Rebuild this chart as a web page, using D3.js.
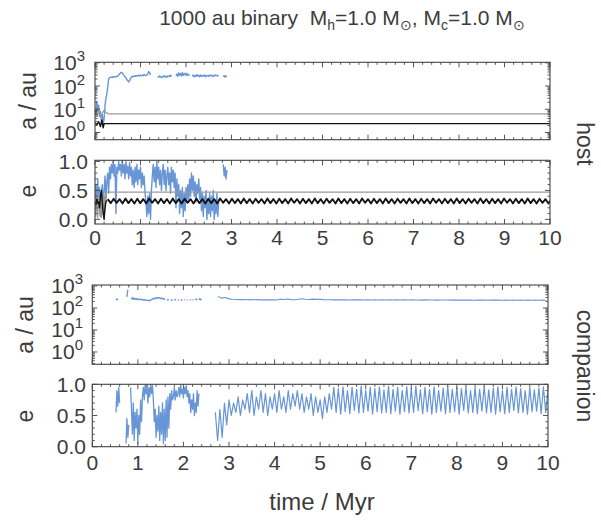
<!DOCTYPE html>
<html><head><meta charset="utf-8">
<script src="https://cdn.jsdelivr.net/npm/d3@7"></script>
<style>
body{margin:0;background:#fff;}
svg{display:block;font-family:"Liberation Sans",Arial,Helvetica,sans-serif;}
text{white-space:pre;}
</style></head><body>
<svg id="c" width="601" height="520"></svg>
<script>
// ---------------- DATA ----------------
const xTicks = [0,1,2,3,4,5,6,7,8,9,10];
const logTickExps = [0,1,2,3];
const eTicks = [0.0,0.5,1.0];
const eTickLabels = ["0.0","0.5","1.0"];

// host planet semi-major axis (blue), t = 0 .. 2.90 Myr, step 0.02
const hostA_blueStart = 0, hostA_blueStep = 0.02;
const hostA_blue = [
 10,6,22,9,15,5,8,3,6,2,
 4,14,30,45,90,200,230,235,240,245,
 240,250,255,250,260,270,300,330,360,390,
 370,310,280,250,220,190,170,150,170,210,
 240,260,250,270,260,280,265,275,300,270,
 290,280,300,275,310,290,280,300,320,420,
 380,300,null,null,null,null,null,null,null,260,
 240,270,250,230,260,245,280,250,265,240,
 270,255,290,260,300,null,null,null,null,280,
 330,260,370,290,350,270,380,290,340,300,
 360,280,330,300,280,null,null,260,300,250,
 280,260,310,270,290,250,300,260,280,270,
 300,250,290,270,280,260,300,275,290,260,
 285,270,300,280,290,270,285,null,null,null,
 null,250,280,240,270,260
];
// host inner planets: grey and black semi-major axes
const hostA_greyT = [0,0.02,0.05,0.08,0.10,0.13,0.16,0.20,0.25,0.30,10];
const hostA_grey  = [6,8,5,9,6,4.5,7,9,7,6.3,6.3];
const hostA_blackT = [0,0.04,0.08,0.12,0.15,0.18,0.20,0.22,10];
const hostA_black  = [2.6,2.2,2.9,1.8,3.4,1.6,2.4,2.4,2.4];

// host eccentricities
const hostE_blueStart = 0, hostE_blueStep = 0.02;
const hostE_blue = [
 0.35,0.6,0.15,0.7,0.25,0.55,0.05,0.45,0.6,0.2,
 0.5,0.75,0.35,0.65,0.8,0.45,0.9,0.7,0.95,0.8,
 1.0,0.75,0.95,0.1,0.9,0.8,1.0,0.85,0.95,0.75,
 1.0,0.8,0.95,0.7,1.0,0.8,0.92,0.7,0.98,0.75,
 0.9,0.6,0.85,0.55,0.9,0.65,0.95,0.6,0.85,0.7,
 0.9,0.55,0.8,0.6,0.75,0.45,0.3,0.05,0.4,0.1,
 0.45,0.0,0.5,0.75,0.95,0.65,0.9,0.55,1.0,0.7,
 0.9,0.6,0.85,0.5,0.8,0.95,0.6,0.85,0.5,0.75,
 0.9,0.6,0.8,0.45,0.9,0.65,0.85,0.55,0.8,0.2,
 0.7,0.4,0.6,0.1,0.5,0.2,0.55,0.05,0.45,0.15,
 0.55,0.3,0.6,0.35,0.7,0.4,0.8,0.5,0.75,0.4,
 0.65,0.3,0.6,0.45,0.7,0.35,0.55,0.15,0.45,0.05,
 0.4,0.2,0.5,0.0,0.35,0.1,0.45,0.05,0.4,0.15,
 0.5,0.0,0.3,0.1,0.45,0.05,0.35,null,null,null,
 null,0.95,0.75,0.9,0.7,0.85
];
const hostE_greyStart = 0, hostE_greyStep = 0.01;
const hostE_grey = [
 0.1,0.35,0.05,0.4,0.15,0.3,0.02,0.38,0.2,0.44,
 0.08,0.33,0.12,0.42,0.03,0.28,0.18,0.45,0.1,0.36,
 0.22,0.4,0.15,0.44,0.3,0.46,0.472
];
const hostE_greyLateT = [0.26,10];
const hostE_greyLate  = [0.472,0.472];
const hostE_blackEarlyStart = 0, hostE_blackEarlyStep = 0.02;
const hostE_blackEarly = [0.3,0.25,0.35,0.28,0.3,0.2,0.4,0.5,0.3,0.1,0.0,0.2,0.3,0.33];
const hostE_blackStart = 0.28, hostE_blackStep = 0.065;
const hostE_black = [
 0.35,0.28,0.355,0.285,0.35,0.275,0.36,0.28,0.35,0.275,
 0.355,0.28,0.35,0.275,0.36,0.285,0.35,0.275,0.355,0.28,
 0.35,0.275,0.36,0.28,0.35,0.275,0.355,0.285,0.35,0.275,
 0.36,0.28,0.35,0.275,0.355,0.28,0.35,0.275,0.36,0.285,
 0.35,0.275,0.355,0.28,0.35,0.275,0.36,0.28,0.35,0.275,
 0.355,0.285,0.35,0.275,0.36,0.28,0.35,0.275,0.355,0.28,
 0.35,0.275,0.36,0.285,0.35,0.275,0.355,0.28,0.35,0.275,
 0.36,0.28,0.35,0.275,0.355,0.285,0.35,0.275,0.36,0.28,
 0.35,0.275,0.355,0.28,0.35,0.275,0.36,0.285,0.35,0.275,
 0.355,0.28,0.35,0.275,0.36,0.28,0.35,0.275,0.355,0.285,
 0.35,0.275,0.36,0.28,0.35,0.275,0.355,0.28,0.35,0.275,
 0.36,0.285,0.35,0.275,0.355,0.28,0.35,0.275,0.36,0.28,
 0.35,0.275,0.355,0.285,0.35,0.275,0.36,0.28,0.35,0.275,
 0.355,0.28,0.35,0.275,0.36,0.285,0.35,0.275,0.355,0.28,
 0.35,0.275,0.36,0.28,0.35,0.275,0.355,0.285,0.35,0.275,
 0.35
];

// companion planet semi-major axis
const compA_earlyStart = 0.50, compA_earlyStep = 0.02;
const compA_early = [
 null,230,260,225,null,null,null,null,null,null,
 null,null,null,320,680,null,null,null,240,300,
 250,280,245,270,240,260,235,255,240,250,
 230,245,225,240,220,230,215,225,210,230,
 240,260,250,280,265,290,270,300,280,295,
 270,285,260,270,245,255,null,240,230,245,
 null,235,225,240,null,230,245,225,null,240,
 230,null,235,225,240,null,230,245,null,235,
 225,null,240,230,null,225,245,null,235,260,
 230,null,240,270,235,250
];
const compA_lateStart = 2.76, compA_lateStep = 0.08;
const compA_late = [
 330,280,300,260,250,245,240,245,238,242,
 236,240,235,238,233,236,232,250,245,255,
 240,237,250,262,248,245,252,247,250,240,
 238,236,234,238,233,236,231,235,233,237,
 232,234,230,235,232,236,231,233,230,234,
 229,233,231,235,230,232,228,233,230,231,
 228,232,229,231,227,230,228,232,227,229,
 226,230,228,231,226,229,227,230,225,228,
 226,229,225,228,226,227,224,228,225,227,
 225
];

// companion eccentricity
const compE_earlyStart = 0.50, compE_earlyStep = 0.02;
const compE_early = [
 null,0.55,0.9,0.65,0.95,0.7,null,null,null,null,
 null,null,0.05,0.45,0.15,0.35,null,0.95,0.6,0.2,
 0.7,0.1,0.55,0.3,0.6,0.05,0.5,0.2,0.75,0.4,
 0.8,0.95,0.75,1.0,0.85,0.98,0.7,0.95,0.8,1.0,
 0.85,0.98,0.75,0.4,0.6,0.15,0.5,0.25,0.65,0.1,
 0.55,0.2,0.7,0.05,0.6,0.1,0.75,0.15,0.8,0.3,
 0.85,0.6,0.9,0.75,0.8,0.95,0.75,0.9,0.8,0.85,
 0.95,0.8,1.0,0.85,0.92,0.78,0.95,0.85,0.98,0.8,
 0.9,0.7,0.85,0.55,0.75,0.6,0.85,0.5,0.7,0.55,
 0.9,0.65,0.85
];
const compE_lateStart = 2.70, compE_lateStep = 0.05;
const compE_late = [
 0.55,0.1,0.6,0.15,0.7,0.35,0.75,0.5,0.7,0.55,
 0.8,0.5,0.75,0.6,0.85,0.55,0.9,0.5,0.8,0.6,
 0.9,0.55,0.85,0.5,0.8,0.6,0.85,0.55,0.9,0.6,
 0.8,0.55,0.9,0.6,0.85,0.65,0.9,0.6,0.85,0.55,
 0.8,0.6,0.85,0.5,0.8,0.55,0.75,0.45,0.8,0.55,
 0.85,0.6,0.95,0.55,0.93,0.52,0.96,0.56,0.9,0.53,
 0.95,0.58,0.92,0.54,0.97,0.55,0.9,0.57,0.95,0.52,
 0.93,0.56,0.96,0.54,0.91,0.55,0.97,0.53,0.92,0.57,
 0.95,0.52,0.9,0.56,0.96,0.54,0.93,0.55,0.97,0.58,
 0.91,0.53,0.95,0.56,0.92,0.52,0.96,0.55,0.9,0.57,
 0.94,0.53,0.97,0.55,0.92,0.56,0.95,0.52,0.93,0.58,
 0.96,0.54,0.9,0.55,0.95,0.53,0.92,0.57,0.97,0.54,
 0.91,0.55,0.94,0.52,0.96,0.56,0.9,0.53,0.95,0.55,
 0.92,0.58,0.96,0.54,0.93,0.55,0.9,0.52,0.95,0.56,
 0.91,0.57,0.94,0.53,0.96,0.55,0.92
];

// ---------------- DRAWING ----------------
const BLUE = "#6795d6", GREY = "#9a9a9a", BLACK = "#111", FRAME = "#444", TXT = "#3c3c3c";
const svg = d3.select("#c");

function seq(start, step, vals){ return vals.map((v,i)=>({t: start + i*step, v})); }
function pairs(ts, vs){ return ts.map((t,i)=>({t, v: vs[i]})); }

const xHost = d3.scaleLinear().domain([0,10]).range([95,550]);
const xComp = d3.scaleLinear().domain([0,10]).range([92.3,548]);
const yHostA = d3.scaleLog().domain([0.49,1050]).range([139.7,62.3]);
const yHostE = d3.scaleLinear().domain([-0.08,1.02]).range([224,160.3]);
const yCompA = d3.scaleLog().domain([0.275,1110]).range([364.3,285]);
const yCompE = d3.scaleLinear().domain([0,1]).range([446.7,384.3]);

let clipId = 0;
function panel(x, y){
  const g = svg.append("g");
  const id = "clip" + (clipId++);
  const [x0,x1] = x.range(), [yb,yt] = y.range();
  svg.append("clipPath").attr("id", id).append("rect")
     .attr("x", x0).attr("y", yt).attr("width", x1-x0).attr("height", yb-yt);
  const data = g.append("g").attr("clip-path", `url(#${id})`);
  return {g, data, x, y};
}
function drawLine(p, pts, color, width){
  const line = d3.line().defined(d => d.v != null)
     .x(d => p.x(d.t)).y(d => p.y(d.v));
  p.data.append("path").datum(pts).attr("d", line)
     .attr("fill","none").attr("stroke", color).attr("stroke-width", width)
     .attr("stroke-linejoin","round");
}
function tick(g, x1,y1,x2,y2){
  g.append("line").attr("x1",x1).attr("y1",y1).attr("x2",x2).attr("y2",y2)
   .attr("stroke",FRAME).attr("stroke-width",0.9);
}
function frame(p, yMajor, yMinor, xLabelGap){
  const {g, x, y} = p;
  const [x0,x1] = x.range(), [yb,yt] = y.range();
  const xMinor = d3.range(0,10.001,0.2).filter(v => Math.abs(v - Math.round(v)) > 1e-6);
  xTicks.forEach(t => { tick(g, x(t), yb, x(t), yb-5); tick(g, x(t), yt, x(t), yt+5); });
  xMinor.forEach(t => { tick(g, x(t), yb, x(t), yb-2.5); tick(g, x(t), yt, x(t), yt+2.5); });
  yMajor.forEach(v => { tick(g, x0, y(v), x0+5, y(v)); tick(g, x1, y(v), x1-5, y(v)); });
  yMinor.forEach(v => { tick(g, x0, y(v), x0+2.5, y(v)); tick(g, x1, y(v), x1-2.5, y(v)); });
  g.append("rect").attr("x",x0).attr("y",yt).attr("width",x1-x0).attr("height",yb-yt)
   .attr("fill","none").attr("stroke",FRAME).attr("stroke-width",1.1);
  if (xLabelGap){
    xTicks.forEach(t => g.append("text").attr("x", x(t)).attr("y", yb + xLabelGap)
      .attr("text-anchor","middle").attr("font-size",21).attr("fill",TXT).text(t));
  }
}
function logMinor(y){
  const [lo,hi] = y.domain(); const out = [];
  for (let k = -1; k <= 3; k++) for (let m = 2; m <= 9; m++){
    const v = m * Math.pow(10,k); if (v >= lo && v <= hi) out.push(v);
  }
  return out;
}
function logLabels(p, xr){
  logTickExps.forEach(k => {
    const t = p.g.append("text").attr("x", xr).attr("y", p.y(Math.pow(10,k)) + 7.5)
      .attr("text-anchor","end").attr("font-size",21).attr("fill",TXT);
    t.append("tspan").text("10");
    t.append("tspan").attr("dy",-9).attr("font-size",15).text(k);
  });
}
function eLabels(p, xr){
  eTicks.forEach((v,i) => p.g.append("text").attr("x", xr).attr("y", p.y(v) + 7.5)
    .attr("text-anchor","end").attr("font-size",21).attr("fill",TXT).text(eTickLabels[i]));
}
function yTitle(txt, cx, cy){
  svg.append("text").attr("transform", `translate(${cx},${cy}) rotate(-90)`)
    .attr("text-anchor","middle").attr("font-size",23).attr("fill",TXT).text(txt);
}
function sideTitle(txt, cx, cy){
  svg.append("text").attr("transform", `translate(${cx},${cy}) rotate(90)`)
    .attr("text-anchor","middle").attr("font-size",23).attr("fill",TXT).text(txt);
}

const eMinor = d3.range(0,1.0001,0.1).filter(v => Math.abs(v*2 - Math.round(v*2)) > 1e-6);
const logMajor = logTickExps.map(k => Math.pow(10,k));

// host a
const pHA = panel(xHost, yHostA);
drawLine(pHA, seq(hostA_blueStart, hostA_blueStep, hostA_blue), BLUE, 1.4);
drawLine(pHA, pairs(hostA_greyT, hostA_grey), GREY, 1.2);
drawLine(pHA, pairs(hostA_blackT, hostA_black), BLACK, 1.4);
frame(pHA, logMajor, logMinor(yHostA), 0);
logLabels(pHA, 85);

// host e
const pHE = panel(xHost, yHostE);
drawLine(pHE, seq(hostE_blueStart, hostE_blueStep, hostE_blue), BLUE, 1.4);
drawLine(pHE, seq(hostE_greyStart, hostE_greyStep, hostE_grey), GREY, 1.2);
drawLine(pHE, pairs(hostE_greyLateT, hostE_greyLate), GREY, 1.3);
drawLine(pHE, seq(hostE_blackEarlyStart, hostE_blackEarlyStep, hostE_blackEarly), BLACK, 1.4);
drawLine(pHE, seq(hostE_blackStart, hostE_blackStep, hostE_black), BLACK, 1.8);
frame(pHE, eTicks, eMinor, 21);
eLabels(pHE, 88);

// companion a
const pCA = panel(xComp, yCompA);
drawLine(pCA, seq(compA_earlyStart, compA_earlyStep, compA_early), BLUE, 1.3);
drawLine(pCA, seq(compA_lateStart, compA_lateStep, compA_late), BLUE, 1.1);
frame(pCA, logMajor, logMinor(yCompA), 0);
logLabels(pCA, 83);

// companion e
const pCE = panel(xComp, yCompE);
drawLine(pCE, seq(compE_earlyStart, compE_earlyStep, compE_early), BLUE, 1.3);
drawLine(pCE, seq(compE_lateStart, compE_lateStep, compE_late), BLUE, 1.2);
frame(pCE, eTicks, eMinor, 23);
eLabels(pCE, 86);

// titles
yTitle("a / au", 36, 101);
yTitle("e", 36, 191);
yTitle("a / au", 33, 325);
yTitle("e", 33, 416);
sideTitle("host", 577, 144);
sideTitle("companion", 577, 366);
svg.append("text").attr("x", 322).attr("y", 510).attr("text-anchor","middle")
   .attr("font-size",24).attr("fill",TXT).text("time / Myr");

const title = svg.append("text").attr("x", 342).attr("y", 25).attr("text-anchor","middle")
   .attr("font-size",21).attr("fill",TXT);
title.append("tspan").text("1000 au binary  M");
title.append("tspan").attr("dy",5).attr("font-size",14).text("h");
title.append("tspan").attr("dy",-5).text("=1.0 M");
title.append("tspan").attr("dy",5).attr("font-size",14).text("\u2299");
title.append("tspan").attr("dy",-5).text(", M");
title.append("tspan").attr("dy",5).attr("font-size",14).text("c");
title.append("tspan").attr("dy",-5).text("=1.0 M");
title.append("tspan").attr("dy",5).attr("font-size",14).text("\u2299");
</script>
</body></html>
